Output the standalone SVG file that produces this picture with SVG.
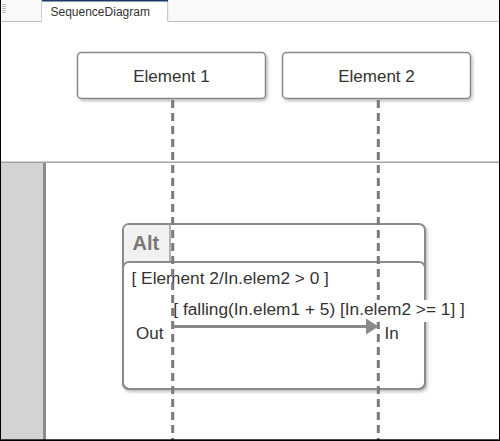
<svg xmlns="http://www.w3.org/2000/svg" width="500" height="441" viewBox="0 0 500 441">
<defs>
<style>
.t{font-family:"Liberation Sans",Arial,sans-serif;fill:#333;font-size:17px}
.t2{font-family:"Liberation Sans",Arial,sans-serif;fill:#333;font-size:17.3px}
.box{fill:#fff;stroke:#888;stroke-width:1.5}
.life{stroke:#7a7a7a;stroke-width:3;stroke-dasharray:8,5;fill:none}
.frame{fill:#fff;stroke:#8a8a8a;stroke-width:2}
</style>
<filter id="sh" x="-10%" y="-10%" width="130%" height="140%">
<feDropShadow dx="1.5" dy="2" stdDeviation="1.5" flood-color="#000" flood-opacity="0.25"/>
</filter>
</defs>
<rect x="0" y="0" width="500" height="441" fill="#fff"/>
<!-- tab bar -->
<g id="tabbar">
<rect x="0" y="0" width="500" height="21.5" fill="#f9f9f9"/>
<line x1="0" y1="21.5" x2="500" y2="21.5" stroke="#bdbdbd" stroke-width="1"/>
<line x1="41.5" y1="0" x2="41.5" y2="21.5" stroke="#cfcfcf" stroke-width="1"/>
<g stroke="#b0b0b0" stroke-width="0.8">
<line x1="2" y1="4.5" x2="6" y2="4.5"/><line x1="2" y1="6.5" x2="6" y2="6.5"/><line x1="2" y1="8.5" x2="6" y2="8.5"/><line x1="2" y1="10.5" x2="6" y2="10.5"/><line x1="2" y1="12.5" x2="6" y2="12.5"/>
</g>
<rect x="42" y="0" width="126" height="22" fill="#fff"/>
<line x1="167.7" y1="0" x2="167.7" y2="21.5" stroke="#bdbdbd" stroke-width="1"/>
<rect x="42" y="0" width="126" height="1.5" fill="#1f3a68"/>
<text x="50.5" y="15.7" style="font-family:'Liberation Sans',Arial,sans-serif;font-size:12px;fill:#333">SequenceDiagram</text>
</g>
<!-- lower area -->
<line x1="0" y1="162.3" x2="500" y2="162.3" stroke="#a3a3a3" stroke-width="1.5"/>
<rect x="0" y="163" width="43" height="278" fill="#d3d3d3"/>
<rect x="43" y="163" width="3" height="278" fill="#8a8a8a"/>
<!-- alt frame -->
<g id="alt">
<rect x="123" y="224" width="302" height="165" rx="6" class="frame" filter="url(#sh)"/>
<path d="M124,261.5 V230 Q124,225 129,225 H170 V261.5 Z" fill="#f1f1f1"/>
<line x1="170" y1="224" x2="170" y2="262" stroke="#9a9a9a" stroke-width="1.5"/>
<text x="132.5" y="250" style="font-family:'Liberation Sans',Arial,sans-serif;font-size:20px;font-weight:bold;fill:#777">Alt</text>
<rect x="123" y="262" width="302" height="127" rx="6" fill="none" stroke="#8a8a8a" stroke-width="2"/>
<text x="131.5" y="284" class="t2">[ Element 2/In.elem2 &gt; 0 ]</text>
</g>
<!-- nodes -->
<g id="element1">
<rect x="77.5" y="52.5" width="188" height="46" rx="4" class="box" filter="url(#sh)"/>
<text x="171.5" y="81.7" class="t" text-anchor="middle">Element 1</text>
</g>
<g id="element2">
<rect x="282.5" y="52.5" width="188" height="46" rx="4" class="box" filter="url(#sh)"/>
<text x="376.5" y="81.7" class="t" text-anchor="middle">Element 2</text>
</g>
<!-- connectors -->
<g id="connectors">
<line x1="172.7" y1="100" x2="172.7" y2="441" class="life"/>
<line x1="378.3" y1="100" x2="378.3" y2="441" class="life"/>
<rect x="174.5" y="300" width="294" height="22" fill="#fff"/>
<text x="173.3" y="315" class="t2">[ falling(In.elem1 + 5) [In.elem2 &gt;= 1] ]</text>
<line x1="173" y1="326.5" x2="368" y2="326.5" stroke="#8a8a8a" stroke-width="3"/>
<path d="M366,318.5 L378.5,326.5 L366,334.5 Z" fill="#8a8a8a"/>
<text x="136" y="339" class="t">Out</text>
<text x="384.5" y="339" class="t">In</text>
</g>
<!-- outer border -->
<rect x="0" y="0" width="1" height="441" fill="#000"/>
<rect x="499" y="0" width="1" height="441" fill="#000"/>
<rect x="0" y="439.3" width="500" height="1.7" fill="#000"/>
</svg>
